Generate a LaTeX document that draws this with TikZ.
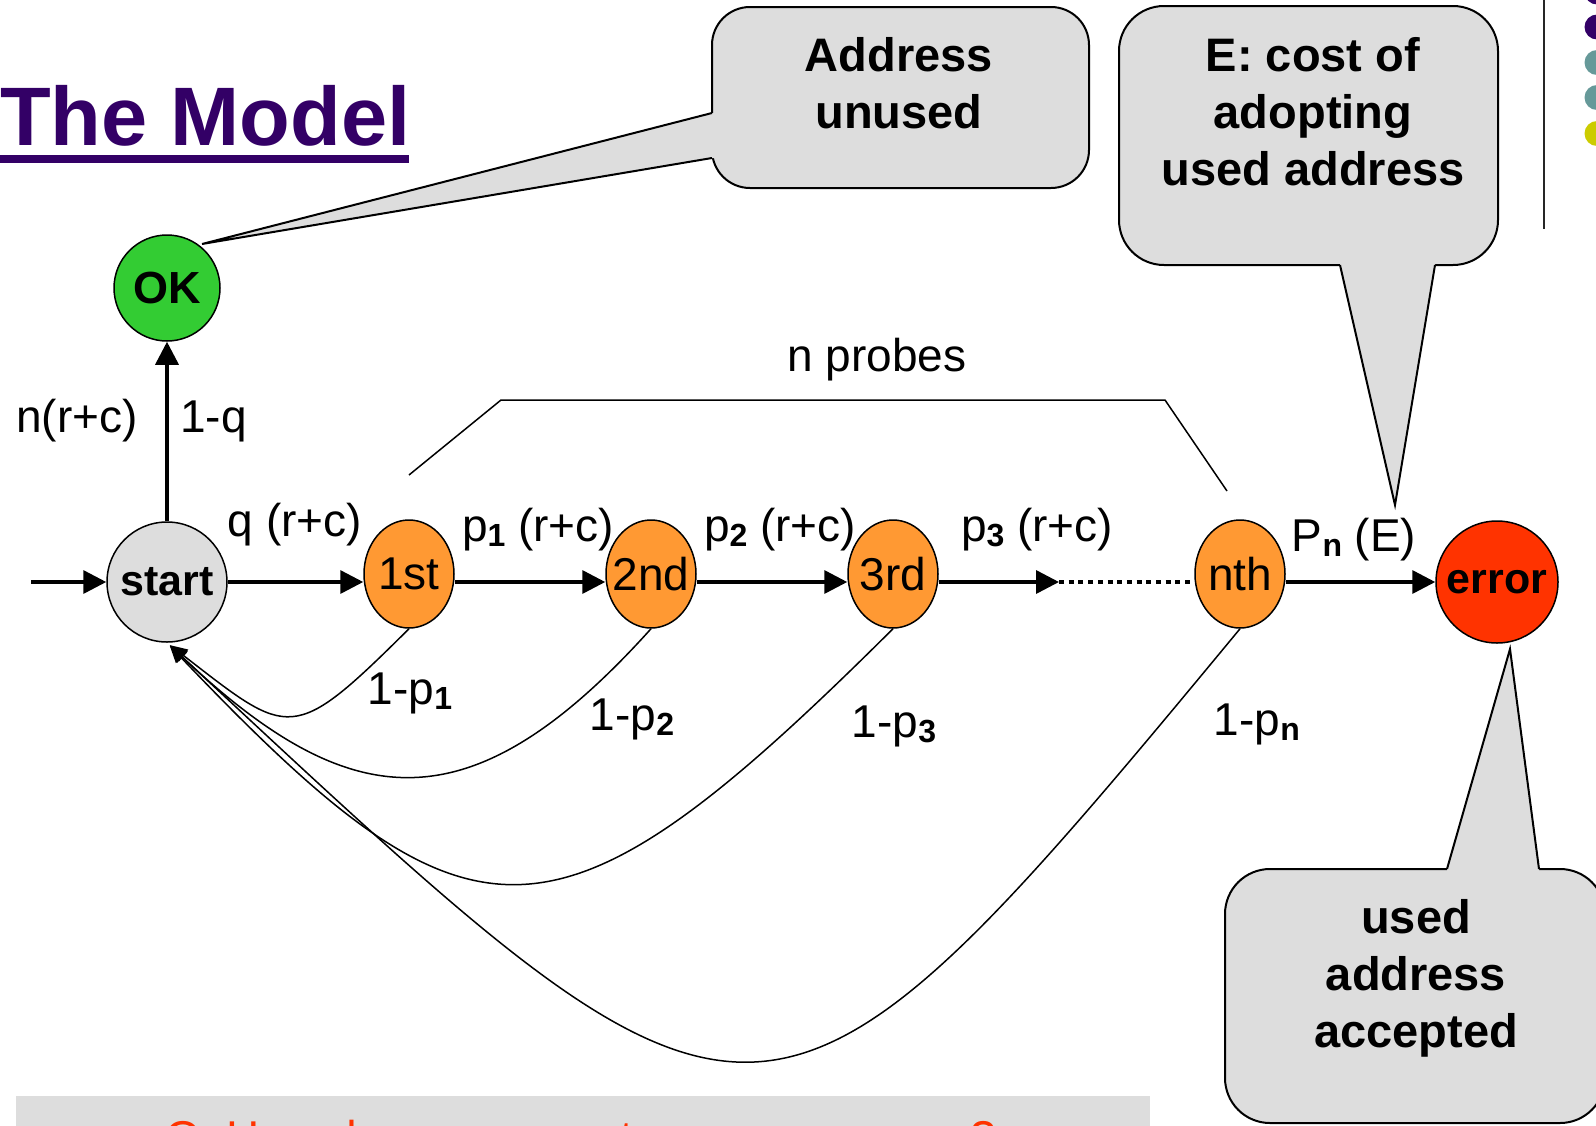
\documentclass[tikz,border=0pt]{standalone}
\usepackage{fontspec}
\setmainfont{Liberation Sans}
\usetikzlibrary{arrows.meta,shapes.geometric}

\definecolor{titlepurple}{HTML}{330066}
\definecolor{lightgray}{HTML}{DDDDDD}
\definecolor{okgreen}{HTML}{33CC33}
\definecolor{proborange}{HTML}{FF9933}
\definecolor{errred}{HTML}{FF3300}
\definecolor{dotteal}{HTML}{669999}
\definecolor{dotyellow}{HTML}{CCCC00}

\newcommand{\fsz}[2]{\fontsize{#1}{#2}\selectfont}
\newcommand{\lowsub}[1]{\raisebox{-5pt}{\fontsize{32}{32}\selectfont\bfseries #1}}
% probe names may be wider than their ellipse; keep the ellipse size fixed
\newcommand{\probename}[1]{\makebox[0pt]{#1}}

\begin{document}
\begin{tikzpicture}[x=1pt, y=-1pt,
  state/.style={circle, draw, line width=1.5pt, inner sep=0pt,
    minimum size=120pt, font=\fsz{43}{50}\bfseries},
  probe/.style={ellipse, draw, fill=proborange, line width=1.5pt, inner sep=0pt,
    minimum width=90pt, minimum height=108pt, font=\fsz{46}{54}},
  arr/.style={line width=3.5pt, -{Triangle[length=23pt,width=23pt]}},
  ret/.style={line width=1.5pt, -{Triangle[length=17pt,width=15pt]}, shorten >=4pt},
  lbl/.style={font=\fsz{46}{54}, inner sep=0pt, anchor=base},
  balloon/.style={fill=lightgray, draw=black, line width=2pt},
  balloontext/.style={font=\fsz{47}{57}\bfseries, align=center, inner sep=0pt}
]
\path[clip] (0,0) rectangle (1596,1125);
\fill[white] (0,0) rectangle (1596,1125);

% title
\node[font=\fsz{83}{90}\bfseries, text=titlepurple, anchor=base west, inner sep=0pt]
  (title) at (0,145) {The Model};
\draw[titlepurple, line width=8pt] (0,159) -- (409,159);

% bullets and separator in the corner
\draw[black!85, line width=2pt] (1544,0) -- (1544,229);
\fill[titlepurple] (1597,-8) circle (12.5);
\fill[titlepurple] (1597,27) circle (12.5);
\fill[dotteal] (1597,62.5) circle (12.5);
\fill[dotteal] (1597,97.5) circle (12.5);
\fill[dotyellow] (1597,133.5) circle (12.5);

% states
\node[state, fill=lightgray] (start) at (167,582) {start};
\node[state, fill=okgreen, minimum size=106pt, font=\fsz{45}{50}\bfseries] (ok) at (167,288) {OK};
\node[probe] (p1) at (409,574) {\probename{1st}};
\node[probe] (p2) at (651,574) {\probename{2nd}};
\node[probe] (p3) at (893,574) {\probename{3rd}};
\node[probe] (pn) at (1240,574) {\probename{nth}};
\node[state, fill=errred, minimum size=122pt] (err) at (1497,582) {error};

% forward transitions
\coordinate (entry) at (31,582);
\coordinate (dots) at (1059,582);
\draw[arr] (entry) -- (start.west);
\draw[arr] (start.north) -- (ok.south);
\draw[arr] (start.east) -- (start.east -| p1.west);
\draw[arr] (p1.east |- start.east) -- (start.east -| p2.west);
\draw[arr] (p2.east |- start.east) -- (start.east -| p3.west);
\draw[arr] (p3.east |- start.east) -- (dots);
\draw[line width=4pt, dash pattern=on 5pt off 4.7pt] (dots) -- (start.east -| pn.west);
\draw[arr] (pn.east |- start.east) -- (err.west);

% failed probes return to start
\draw[ret] (p1.south) .. controls (292,745) and (290,738) .. (start.-90);
\draw[ret] (p2.south) .. controls (470,830) and (350,815) .. (start.-90);
\draw[ret] (p3.south) .. controls (555,965) and (474,965) .. (start.-90);
\draw[ret] (pn.south) .. controls (760,1209) and (760,1195) .. (start.-90);

% transition labels
\node[lbl, anchor=base east] (lnrc) at (138,432) {n(r+c)};
\node[lbl, anchor=base west] (l1q) at (180,432) {1-q};
\node[lbl] (lq) at (295,536) {q (r+c)};
\node[lbl] (lp1) at (538,541) {p\lowsub{1} (r+c)};
\node[lbl] (lp2) at (780,541) {p\lowsub{2} (r+c)};
\node[lbl] (lp3) at (1037,541) {p\lowsub{3} (r+c)};
\node[lbl] (lpn) at (1354,551) {P\lowsub{n} (E)};
\node[lbl] (r1) at (410,704) {1-p\lowsub{1}};
\node[lbl] (r2) at (632,730) {1-p\lowsub{2}};
\node[lbl] (r3) at (894,737) {1-p\lowsub{3}};
\node[lbl] (rn) at (1257,735) {1-p\lowsub{n}};

% bracket over the probes
\coordinate (b1) at (409,475);
\coordinate (b2) at (501,400);
\coordinate (b3) at (1165,400);
\coordinate (b4) at (1227,491);
\draw[line width=1.5pt] (b1) -- (b2) -- (b3) -- (b4);
\node[lbl] (nprobes) at (877,371) {n probes};

% balloon: address unused
\path[balloon, rounded corners=38pt] (712,7) rectangle (1089,188);
\fill[lightgray] (722,113) -- (712,113) -- (202,244) -- (712,158) -- (722,158) -- cycle;
\draw[line width=2pt] (712,113) -- (202,244) -- (712,158);
\node[balloontext] (tunused) at (899,83) {Address\\unused};

% balloon: cost E
\path[balloon, rounded corners=45pt] (1119,6) rectangle (1498,265);
\fill[lightgray] (1340,255) -- (1340,265) -- (1395,505) -- (1435,265) -- (1435,255) -- cycle;
\draw[line width=2pt] (1340,265) -- (1395,505) -- (1435,265);
\node[balloontext] (tcost) at (1313,112) {E: cost of\\adopting\\used address};

% balloon: used address accepted
\path[balloon, rounded corners=45pt] (1225,869) rectangle (1605,1123);
\fill[lightgray] (1447,879) -- (1447,869) -- (1510,649) -- (1539,869) -- (1539,879) -- cycle;
\draw[line width=2pt] (1447,869) -- (1510,649) -- (1539,869);
\node[balloontext] (taccepted) at (1416,978) {used\\address\\accepted};

% question bar at the bottom
\fill[lightgray] (16,1096) rectangle (1150,1140);
\node[font=\fsz{46}{54}, text=errred, anchor=base west, inner sep=0pt] (question)
  at (165,1153) {Q: How do you compute a proper n, r, q?};
\end{tikzpicture}
\end{document}
